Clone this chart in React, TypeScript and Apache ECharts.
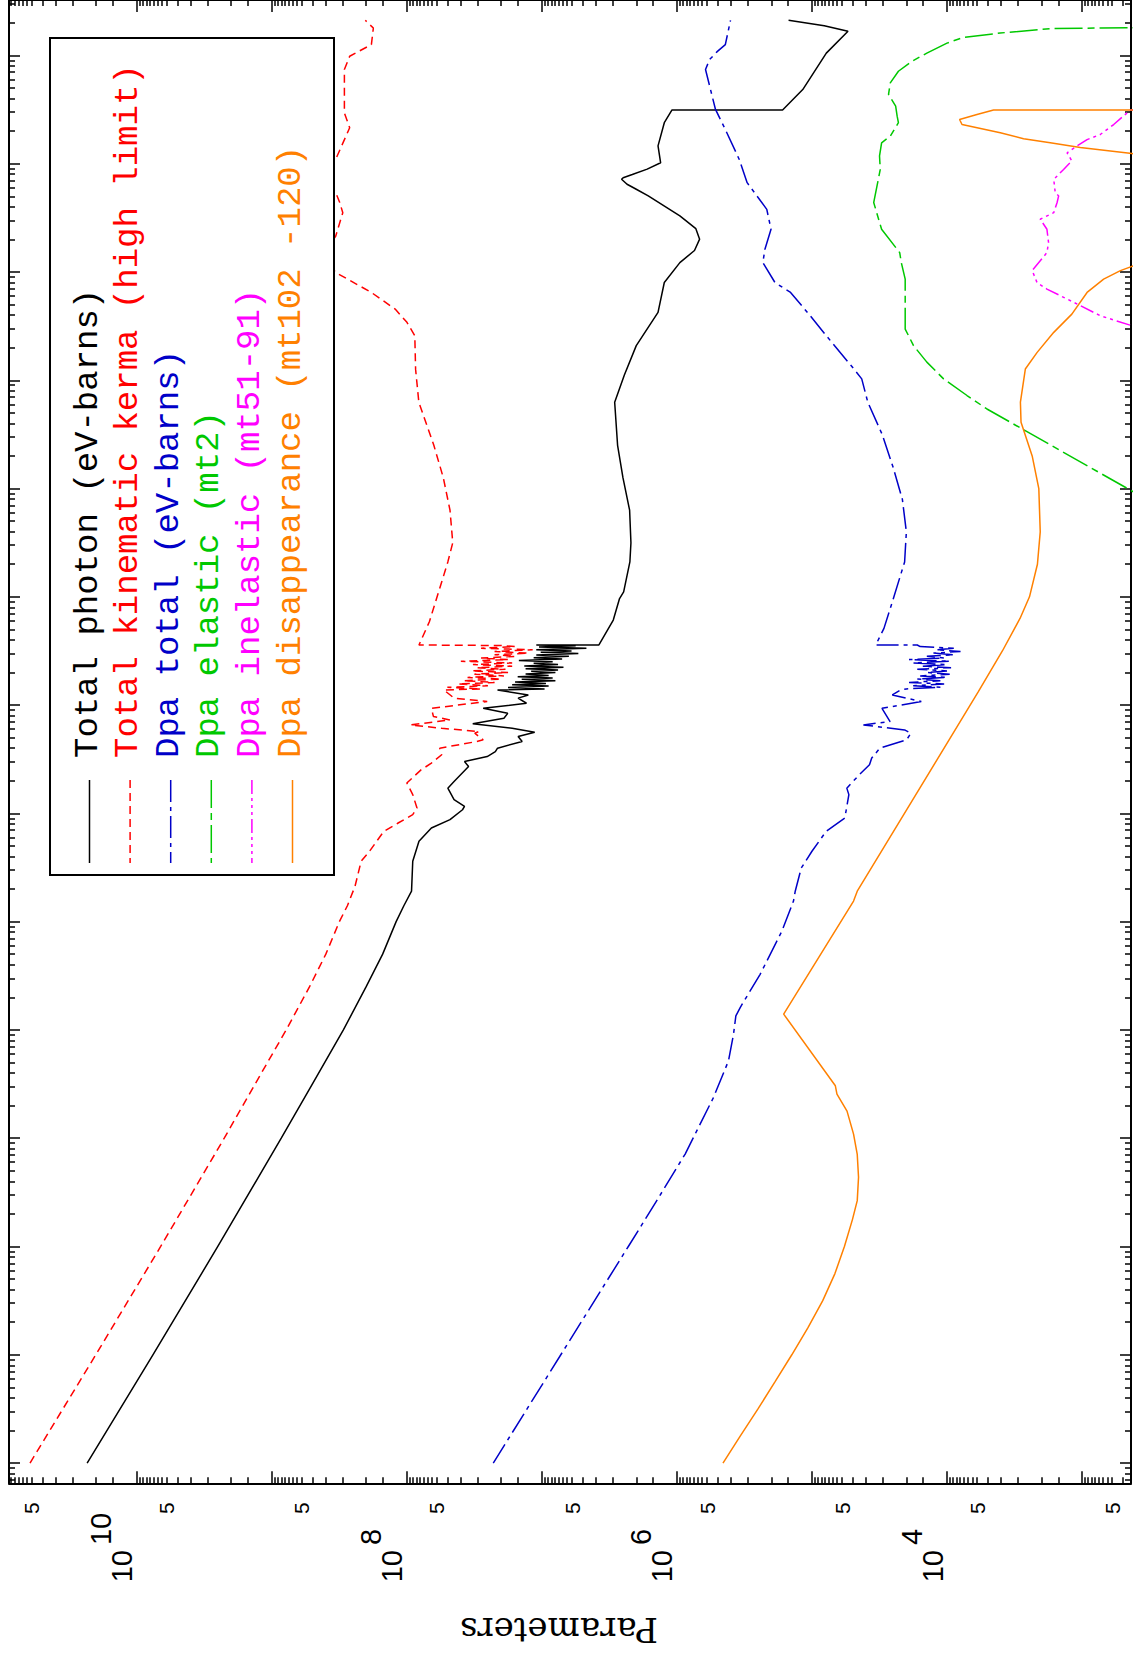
import { useEffect, useRef } from "react";
import * as echarts from "echarts";

// ---------- data (energy in eV, parameter values) ----------
const photonEnergy = [1e-5, 1e-4, 1e-3, 1e-2, 0.0316, 0.1, 0.251, 0.501, 1, 1.41, 1.91, 3.61, 5.52, 7.33, 8.75, 10.8, 11.6, 13.4, 17.1, 19.7, 27.1, 30.1, 33.5, 37.2, 40.0, 46.1, 51.3, 56.1, 61.1, 67.1, 75.5, 83.9, 93.3, 104, 116, 124, 138, 141, 145, 150, 154, 158, 163, 168, 173, 178, 183, 188, 194, 200, 205, 211, 217, 224, 230, 237, 244, 251, 258, 266, 274, 282, 290, 299, 307, 316, 325, 335, 344, 354, 359, 359, 610, 964, 1110, 2100, 3160, 6310, 12600, 25100, 62700, 112000, 209000, 424000, 800000, 1.22e6, 1.58e6, 2.01e6, 2.51e6, 3.3e6, 5.04e6, 5.81e6, 6.46e6, 7.18e6, 7.41e6, 7.94e6, 8.91e6, 1.02e7, 1.46e7, 2.39e7, 3.13e7, 3.13e7, 4.84e7, 1.05e8, 1.67e8, 1.88e8, 2.11e8];
const photonValue = [2.33e10, 7.59e9, 2.51e9, 8.51e8, 5.01e8, 2.95e8, 2.0e8, 1.51e8, 1.2e8, 1.05e8, 9.23e7, 9.04e7, 8.13e7, 6.58e7, 4.79e7, 3.87e7, 3.74e7, 4.47e7, 4.97e7, 4.47e7, 3.49e7, 3.74e7, 2.54e7, 2.21e7, 2.13e7, 1.4e7, 1.5e7, 1.13e7, 1.66e7, 3.25e7, 1.91e7, 1.79e7, 2.72e7, 1.3e7, 1.5e7, 1.26e7, 2.13e7, 9.55e6, 1.78e7, 8.91e6, 1.66e7, 9.33e6, 1.58e7, 7.94e6, 1.41e7, 8.32e6, 1.51e7, 8.91e6, 1.32e7, 7.94e6, 1.2e7, 7.59e6, 1.32e7, 6.92e6, 1.35e7, 7.59e6, 1.15e7, 8.32e6, 1.48e7, 7.08e6, 1.15e7, 6.31e6, 1.1e7, 5.37e6, 1.02e7, 6.03e6, 1.1e7, 4.68e6, 1.05e7, 5.62e6, 1.1e7, 3.78e6, 2.96e6, 2.66e6, 2.48e6, 2.23e6, 2.19e6, 2.24e6, 2.51e6, 2.75e6, 2.89e6, 2.45e6, 2.0e6, 1.38e6, 1.24e6, 9.51e5, 7.41e5, 6.79e5, 7.24e5, 9.51e5, 1.63e6, 2.0e6, 2.34e6, 2.57e6, 2.5e6, 2.14e6, 1.66e6, 1.32e6, 1.38e6, 1.24e6, 1.09e6, 1.65e5, 1.17e5, 7.83e4, 5.41e4, 8.11e4, 1.49e5];

const kermaEnergy = [1e-5, 1e-4, 1e-3, 1e-2, 0.0316, 0.1, 0.251, 0.501, 1, 1.41, 2.12, 3.61, 4.47, 6.82, 8.15, 9.73, 11.2, 14.9, 19.1, 25.2, 29.1, 34.8, 40.0, 46.1, 47.8, 55.0, 57.0, 61.1, 65.6, 72.9, 78.3, 93.3, 108, 116, 138, 141, 146, 151, 157, 162, 168, 174, 180, 186, 193, 200, 207, 214, 221, 229, 237, 245, 254, 263, 272, 282, 292, 302, 313, 324, 335, 347, 355, 359, 589, 1370, 2100, 3160, 6310, 12600, 25100, 62700, 126000, 258000, 343000, 454000, 647000, 989000, 1.41e6, 2.15e6, 3.53e6, 4.38e6, 5.41e6, 7.59e6, 1.1e7, 2.15e7, 2.95e7, 7.41e7, 9.82e7, 1.26e8, 1.79e8, 2.11e8];
const kermaValue = [6.17e10, 2.01e10, 6.65e9, 2.25e9, 1.33e9, 7.82e8, 5.25e8, 3.98e8, 3.16e8, 2.75e8, 2.42e8, 2.18e8, 1.89e8, 1.48e8, 1.16e8, 9.04e7, 8.41e7, 9.04e7, 1.0e8, 7.85e7, 6.58e7, 5.52e7, 5.71e7, 3.03e7, 2.72e7, 3.14e7, 2.92e7, 5.52e7, 9.35e7, 4.79e7, 6.35e7, 6.58e7, 2.54e7, 4.47e7, 5.32e7, 2.82e7, 5.01e7, 2.51e7, 4.17e7, 2.24e7, 3.8e7, 2.0e7, 3.55e7, 1.91e7, 3.16e7, 1.78e7, 3.31e7, 1.86e7, 3.02e7, 1.66e7, 3.24e7, 1.66e7, 3.98e7, 1.78e7, 2.82e7, 1.58e7, 2.24e7, 1.26e7, 2.24e7, 1.17e7, 2.82e7, 1.58e7, 2.0e7, 8.13e7, 6.81e7, 5.52e7, 4.97e7, 4.57e7, 4.79e7, 5.37e7, 6.31e7, 8.15e7, 8.61e7, 8.73e7, 9.98e7, 1.22e8, 1.83e8, 3.36e8, 4.17e8, 3.36e8, 2.98e8, 3.14e8, 3.36e8, 3.98e8, 3.36e8, 2.65e8, 2.9e8, 2.9e8, 2.65e8, 1.83e8, 1.77e8, 2.03e8];

const dpaTotalEnergy = [1e-5, 1e-4, 1e-3, 2.65e-3, 7.14e-3, 0.0238, 0.0518, 0.0912, 0.135, 0.161, 0.326, 0.817, 1.55, 1.91, 3.13, 4.47, 6.82, 9.06, 14.9, 17.1, 22.7, 28.1, 32.4, 40.0, 47.8, 55.0, 59.0, 65.6, 70.5, 93.3, 108, 124, 138, 141, 146, 151, 157, 162, 168, 174, 180, 186, 193, 200, 207, 214, 221, 229, 237, 245, 254, 263, 272, 282, 292, 302, 313, 324, 335, 347, 359, 359, 511, 899, 2100, 3980, 7940, 15800, 31600, 62700, 103000, 127000, 258000, 394000, 647000, 800000, 1.22e6, 1.62e6, 2.48e6, 3.79e6, 6.68e6, 1.1e7, 2.07e7, 3.17e7, 7.41e7, 9.16e7, 1.09e8, 1.26e8, 2.11e8];
const dpaTotalValue = [2.29e7, 7.24e6, 2.29e6, 1.41e6, 8.69e5, 5.36e5, 4.15e5, 3.81e5, 3.66e5, 3.4e5, 2.42e5, 1.67e5, 1.37e5, 1.33e5, 1.2e5, 1.0e5, 7.85e4, 5.71e4, 5.33e4, 5.52e4, 4.47e4, 3.75e4, 3.61e4, 3.14e4, 1.99e4, 1.85e4, 2.06e4, 4.16e4, 2.64e4, 3.03e4, 1.55e4, 2.54e4, 2.21e4, 2.0e4, 1.12e4, 1.78e4, 1.05e4, 1.91e4, 1.12e4, 1.66e4, 1.0e4, 1.58e4, 9.55e3, 1.41e4, 1.0e4, 1.66e4, 9.33e3, 1.51e4, 1.0e4, 1.78e4, 9.55e3, 1.91e4, 1.05e4, 1.41e4, 8.91e3, 1.26e4, 7.94e3, 1.2e4, 8.91e3, 1.58e4, 1.66e4, 3.37e4, 2.93e4, 2.54e4, 2.06e4, 2.0e4, 2.14e4, 2.51e4, 3.02e4, 3.86e4, 4.28e4, 4.89e4, 7.83e4, 1.03e5, 1.44e5, 1.88e5, 2.31e5, 2.23e5, 2.01e5, 2.16e5, 3.02e5, 3.46e5, 4.38e5, 5.18e5, 6.14e5, 5.73e5, 5.01e5, 4.38e5, 4.01e5];

const dpaElasticEnergy = [6310, 41000, 54300, 72300, 103000, 147000, 209000, 297000, 424000, 859000, 1.22e6, 1.51e6, 2.48e6, 4.38e6, 8.85e6, 1.18e7, 1.56e7, 1.8e7, 2.39e7, 2.75e7, 3.4e7, 4.36e7, 5.58e7, 7.14e7, 8.83e7, 1.05e8, 1.3e8, 1.47e8, 1.61e8, 1.77e8, 1.79e8, 1.82e8];
const dpaElasticValue = [240, 3.4e3, 5.06e3, 7.11e3, 1.06e4, 1.41e4, 1.77e4, 2.04e4, 2.04e4, 2.04e4, 2.18e4, 2.24e4, 3.05e4, 3.49e4, 3.12e4, 3.16e4, 3.05e4, 2.63e4, 2.29e4, 2.34e4, 2.4e4, 2.71e4, 2.63e4, 2.29e4, 1.82e4, 1.41e4, 1.0e4, 7.53e3, 4.04e3, 1.71e3, 729, 200];

const dpaInelasticEnergy = [251000, 319000, 394000, 524000, 695000, 794000, 1.03e6, 1.27e6, 1.51e6, 1.87e6, 2.48e6, 3.07e6, 3.53e6, 4.38e6, 5.04e6, 5.41e6, 7.16e6, 8.85e6, 1.06e7, 1.26e7, 1.46e7, 1.67e7, 1.86e7, 2.3e7, 3.13e7, 3.13e7];
const dpaInelasticValue = [234, 427, 731, 1.15e3, 1.82e3, 2.15e3, 2.34e3, 2.04e3, 1.82e3, 1.77e3, 1.82e3, 2.04e3, 1.62e3, 1.53e3, 1.49e3, 1.58e3, 1.62e3, 1.37e3, 1.19e3, 1.29e3, 1.09e3, 918, 733, 583, 439, 100];

const dpaDisEnergy = [1e-5, 1.78e-5, 3.16e-5, 5.62e-5, 1e-4, 1.78e-4, 3.16e-4, 5.62e-4, 1e-3, 1.78e-3, 2.65e-3, 4.36e-3, 7.08e-3, 0.0109, 0.0178, 0.0255, 0.0305, 0.14, 1.55, 1.91, 133, 316, 631, 1000, 2000, 3980, 1e4, 2e4, 41000, 62700, 127000, 181000, 277000, 408000, 647000, 859000, 1.03e6, 1.58e6, 1e7, 1.24e7, 1.41e7, 1.56e7, 1.7e7, 1.93e7, 2.3e7, 2.56e7, 2.85e7, 3.13e7, 3.13e7];
const dpaDisValue = [4.56e5, 3.39e5, 2.51e5, 1.88e5, 1.41e5, 1.07e5, 8.32e4, 6.76e4, 5.75e4, 5.01e4, 4.62e4, 4.52e4, 4.62e4, 4.92e4, 5.5e4, 6.53e4, 6.71e4, 1.62e5, 4.92e4, 4.62e4, 5.86e3, 3.89e3, 2.88e3, 2.45e3, 2.14e3, 2.04e3, 2.09e3, 2.34e3, 2.83e3, 2.86e3, 2.63e3, 2.15e3, 1.62e3, 1.19e3, 918, 692, 520, 200, 200, 427, 1.03e3, 1.72e3, 2.71e3, 4.03e3, 7.74e3, 8.07e3, 6.0e3, 4.52e3, 100];

// ---------- axes: ticks and labels ----------
const valueRange = [4.34e2, 8.83e10];
const energyRange = [6.5e-6, 3.25e8];
const valueDecades = [1e2, 1e3, 1e4, 1e5, 1e6, 1e7, 1e8, 1e9, 1e10];
const energyDecades = [1e-6, 1e-5, 1e-4, 1e-3, 1e-2, 1e-1, 1, 10, 100, 1e3, 1e4, 1e5, 1e6, 1e7, 1e8];
const valueMinorMultipliers = [1.5, 2, 3, 4, 5, 6, 6.5, 7, 7.5, 8, 8.5, 9, 9.5];
const energyMinorMultipliers = [2, 3, 4, 5, 6, 7, 8, 9];
const powerLabelTicks = [1e10, 1e8, 1e6, 1e4];
const fiveLabelTicks = [5e10, 5e9, 5e8, 5e7, 5e6, 5e5, 5e4, 5e3, 5e2];
const axisTitle = "Parameters";

const legendItems = [
  { label: "Total photon (eV-barns)", color: "#000000", dash: null as number[] | null },
  { label: "Total kinematic kerma (high limit)", color: "#ff0000", dash: [8, 5] },
  { label: "Dpa total (eV-barns)", color: "#0000c8", dash: [22, 5, 4, 5] },
  { label: "Dpa elastic (mt2)", color: "#00c800", dash: [28, 5, 7, 5] },
  { label: "Dpa inelastic (mt51-91)", color: "#ff00ff", dash: [14, 4, 3, 4, 3, 4, 3, 4] },
  { label: "Dpa disappearance (mt102 -120)", color: "#ff8000", dash: null as number[] | null },
];
const seriesData = [
  [photonEnergy, photonValue],
  [kermaEnergy, kermaValue],
  [dpaTotalEnergy, dpaTotalValue],
  [dpaElasticEnergy, dpaElasticValue],
  [dpaInelasticEnergy, dpaInelasticValue],
  [dpaDisEnergy, dpaDisValue],
];

const L = (v: number) => Math.log10(v);
const X_MIN = L(valueRange[0]);
const X_MAX = L(valueRange[1]);
const Y_MIN = L(energyRange[0]);
const Y_MAX = L(energyRange[1]);

function majors(decades: number[], lo: number, hi: number) {
  return decades.map(L).filter((v) => v >= lo - 1e-9 && v <= hi + 1e-9);
}
function minors(decades: number[], mults: number[], lo: number, hi: number) {
  const out: number[] = [];
  decades.forEach((d) => mults.forEach((m) => {
    const v = L(d * m);
    if (v >= lo && v <= hi) out.push(v);
  }));
  return out;
}

const xMajor = majors(valueDecades, X_MIN, X_MAX);
const xMinor = minors(valueDecades, valueMinorMultipliers, X_MIN, X_MAX);
const yMajor = majors(energyDecades, Y_MIN, Y_MAX);
const yMinor = minors(energyDecades, energyMinorMultipliers, Y_MIN, Y_MAX);

const tickStyle = { color: "#000", width: 1.5 };
const lineStyle = { color: "#000", width: 2 };

const powerLabel = {
  show: true,
  customValues: powerLabelTicks.map(L),
  rotate: 90,
  margin: 99,
  align: "left",
  verticalAlign: "bottom",
  color: "#000",
  fontFamily: "Liberation Sans",
  formatter: (v: number) => `{b|10}{e|${Math.round(v)}}`,
  rich: {
    b: { fontSize: 29, fontFamily: "Liberation Sans", color: "#000", verticalAlign: "bottom" },
    e: { fontSize: 29, fontFamily: "Liberation Sans", color: "#000", verticalAlign: "top", lineHeight: 50, padding: [0, 0, 0, 5] },
  },
};
const fiveLabel = {
  show: true,
  customValues: fiveLabelTicks.map(L),
  rotate: 90,
  margin: 19,
  align: "right",
  verticalAlign: "bottom",
  color: "#000",
  fontSize: 21,
  fontFamily: "Liberation Sans",
  formatter: (v: number) => `${Math.round(Math.pow(10, v - Math.floor(v)))}`,
};

function xAxisDef(position: string, ticks: number[], len: number, showLine: boolean, label: any) {
  return {
    type: "value",
    position,
    min: X_MIN,
    max: X_MAX,
    inverse: true,
    splitLine: { show: false },
    axisLine: { show: showLine, onZero: false, lineStyle },
    axisTick: { show: true, inside: true, length: len, customValues: ticks, lineStyle: tickStyle },
    axisLabel: label ?? { show: false },
  };
}
function yAxisDef(position: string, ticks: number[], len: number, showLine: boolean) {
  return {
    type: "value",
    position,
    min: Y_MIN,
    max: Y_MAX,
    splitLine: { show: false },
    axisLine: { show: showLine, onZero: false, lineStyle },
    axisTick: { show: true, inside: true, length: len, customValues: ticks, lineStyle: tickStyle },
    axisLabel: { show: false },
  };
}

function buildOption() {
  const series = legendItems.map((item, i) => {
    const [E, V] = seriesData[i];
    return {
      type: "line",
      name: item.label,
      xAxisIndex: 0,
      yAxisIndex: 0,
      data: E.map((e, k) => [L(V[k]), L(e)]),
      symbol: "none",
      showSymbol: false,
      clip: true,
      silent: true,
      z: 2,
      lineStyle: { color: item.color, width: 1.5, type: item.dash ?? "solid" },
    };
  });

  const colX0 = 87.5;
  const colStep = 40.6;
  const graphic: any[] = [
    {
      type: "rect",
      z: 100,
      shape: { x: 50, y: 38, width: 284, height: 837 },
      style: { fill: "#ffffff", stroke: "#000000", lineWidth: 2 },
    },
  ];
  legendItems.forEach((item, i) => {
    const cx = colX0 + i * colStep;
    graphic.push({
      type: "line",
      z: 101,
      shape: { x1: cx + 2, y1: 780, x2: cx + 2, y2: 863 },
      style: { stroke: item.color, lineWidth: 1.5, lineDash: item.dash ?? undefined },
    });
    graphic.push({
      type: "text",
      z: 101,
      x: cx,
      y: 758,
      rotation: Math.PI / 2,
      style: {
        text: item.label,
        fill: item.color,
        fontSize: 34,
        fontFamily: "Liberation Mono",
        align: "left",
        verticalAlign: "middle",
      },
    });
  });
  graphic.push({
    type: "text",
    z: 101,
    x: 559,
    y: 1630,
    rotation: Math.PI,
    style: {
      text: axisTitle,
      fill: "#000",
      fontSize: 34,
      fontFamily: "DejaVu Serif",
      align: "center",
      verticalAlign: "middle",
    },
  });

  return {
    animation: false,
    backgroundColor: "#ffffff",
    textStyle: { fontFamily: "Liberation Sans" },
    grid: { left: 9, top: -3, width: 1122, height: 1486.3, containLabel: false },
    xAxis: [
      xAxisDef("bottom", xMajor, 12, true, powerLabel),
      xAxisDef("bottom", xMinor, 6, false, fiveLabel),
      xAxisDef("top", xMajor, 12, true, null),
      xAxisDef("top", xMinor, 6, false, null),
    ],
    yAxis: [
      yAxisDef("left", yMajor, 11, true),
      yAxisDef("left", yMinor, 6, false),
      yAxisDef("right", yMajor, 11, true),
      yAxisDef("right", yMinor, 6, false),
    ],
    series,
    graphic,
  };
}

export default function App() {
  const ref = useRef<HTMLDivElement>(null);
  useEffect(() => {
    if (!ref.current) return;
    const chart = echarts.init(ref.current, null, { renderer: "svg" });
    chart.setOption(buildOption() as any);
    return () => chart.dispose();
  }, []);
  return (
    <div
      ref={ref}
      style={{ position: "absolute", left: 0, top: 0, width: 1133, height: 1656, background: "#fff" }}
    />
  );
}
